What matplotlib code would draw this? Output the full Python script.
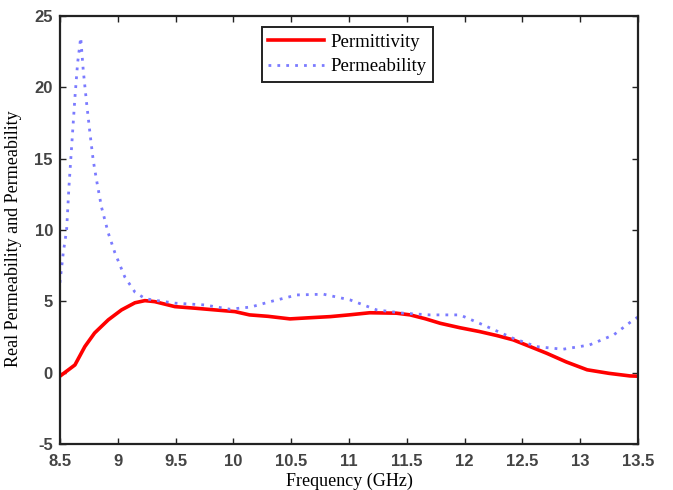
import matplotlib
matplotlib.use("Agg")
import matplotlib.pyplot as plt
import numpy as np

# permittivity (red solid)
freq_eps = [8.5, 8.63, 8.716, 8.80, 8.918, 9.033, 9.149, 9.235, 9.32, 9.495, 9.668, 9.84,
            10.014, 10.14, 10.30, 10.49, 10.66, 10.84, 11.0, 11.18, 11.41, 11.53, 11.66, 11.79,
            11.96, 12.13, 12.28, 12.42, 12.56, 12.71, 12.88, 13.06, 13.25, 13.43, 13.5]
permittivity = [-0.25, 0.54, 1.83, 2.78, 3.7, 4.4, 4.9, 5.05, 4.98, 4.63, 4.52, 4.4,
                4.28, 4.05, 3.95, 3.77, 3.85, 3.93, 4.05, 4.2, 4.17, 4.05, 3.78, 3.46,
                3.15, 2.88, 2.6, 2.3, 1.85, 1.36, 0.75, 0.2, -0.05, -0.23, -0.25]

# permeability (blue dotted)
freq_mu = [8.5, 8.529, 8.558, 8.578, 8.601, 8.630, 8.653, 8.68, 8.702, 8.731, 8.76, 8.788,
           8.817, 8.86, 8.918, 8.976, 9.062, 9.149, 9.235, 9.30, 9.5, 9.75, 9.97, 10.15,
           10.32, 10.55, 10.78, 11.01, 11.24, 11.47, 11.70, 11.96, 12.16, 12.42, 12.62,
           12.85, 13.08, 13.29, 13.46, 13.5]
permeability = [6.3, 8.4, 10.0, 13.0, 15.8, 19.3, 21.7, 23.5, 21.2, 18.9, 16.8, 14.9,
                13.5, 11.6, 9.8, 8.4, 6.7, 5.65, 5.2, 5.1, 4.87, 4.75, 4.45, 4.6,
                4.98, 5.45, 5.5, 5.1, 4.4, 4.17, 4.05, 4.05, 3.35, 2.41, 1.83,
                1.64, 1.94, 2.65, 3.7, 3.9]

x_ticks = [8.5, 9, 9.5, 10, 10.5, 11, 11.5, 12, 12.5, 13, 13.5]
y_ticks = [-5, 0, 5, 10, 15, 20, 25]

fig = plt.figure(figsize=(6.73, 4.9), dpi=100)
ax = fig.add_axes([0.089, 0.094, 0.859, 0.873])

ax.plot(freq_eps, permittivity, '-', color='#ff0000', lw=2.6, label='Permittivity')
ax.plot(freq_mu, permeability, color='#7b7bff', lw=2.0, dashes=(1, 2.2),
        label='Permeability')

ax.set_xlim(8.5, 13.5)
ax.set_ylim(-5, 25)
ax.set_xticks(x_ticks)
ax.set_xticklabels([f'{t:g}' for t in x_ticks])
ax.set_yticks(y_ticks)
ax.set_yticklabels([str(t) for t in y_ticks])
ax.tick_params(direction='in', top=True, right=True, length=4, width=1,
               labelsize=12, colors='#222222')
ax.tick_params(axis='x', pad=7)
ax.tick_params(axis='y', pad=5)
for lab in ax.get_xticklabels() + ax.get_yticklabels():
    lab.set_family('Liberation Sans')
    lab.set_fontweight('bold')
    lab.set_color('#444444')
for sp in ax.spines.values():
    sp.set_linewidth(1.6)
    sp.set_color('#222222')

ax.set_xlabel('Frequency (GHz)', family='Liberation Serif', fontsize=13, labelpad=3)
ax.set_ylabel('Real Permeability and Permeability', family='Liberation Serif',
              fontsize=13)
ax.yaxis.set_label_coords(-0.066, 0.48)

leg = ax.legend(loc='upper center', bbox_to_anchor=(0.497, 0.997),
                prop={'family': 'Liberation Serif', 'size': 13.5},
                fancybox=False, framealpha=1, edgecolor='#222222',
                handlelength=3.0, handletextpad=0.3, borderpad=0.35,
                labelspacing=0.4)
leg.get_frame().set_linewidth(1.4)

fig.savefig('out.png', dpi=100)
